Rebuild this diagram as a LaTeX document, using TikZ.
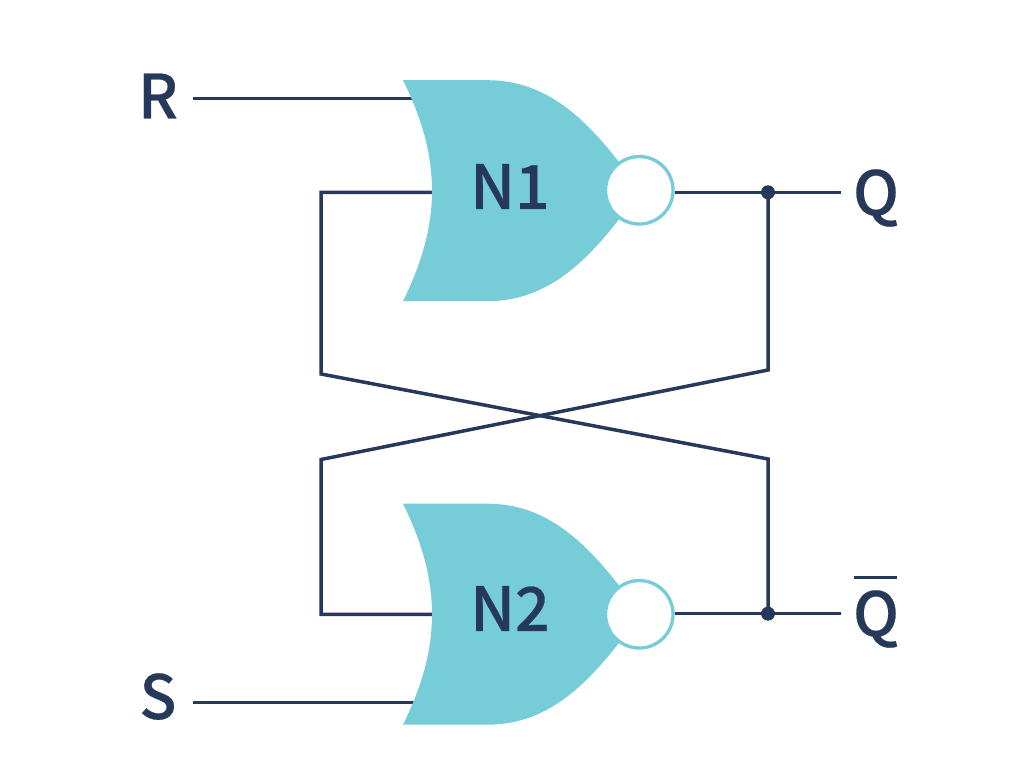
\documentclass[tikz,border=0pt]{standalone}
\usepackage{fontspec}
\setmainfont{Noto Sans CJK SC}[UprightFont=* Medium, UprightFeatures={FakeBold=0.4}]
\usepackage{tikz}
\usetikzlibrary{positioning}
\definecolor{wirecol}{HTML}{27395A}
\definecolor{gatecol}{HTML}{76CDD8}
\tikzset{
  wire/.style={draw=wirecol, line width=0.07cm},
  gatename/.style={text=wirecol, font=\fontsize{34.7}{36}\selectfont, inner sep=0pt, text height=0.92cm, text depth=0pt},
  sig/.style={gatename, minimum width=1.4cm},
  bubble/.style={draw=gatecol, fill=white, circle, line width=0.066cm, minimum size=1.35cm, inner sep=0pt},
  joint/.style={fill=wirecol, circle, minimum size=0.28cm, inner sep=0pt},
  norbody/.pic={
    \fill[gatecol] (-237,-110.5) -- (-153,-110.5) .. controls (-90,-110.5) and (-48,-68.5) .. (0,0)
      .. controls (-48,68.5) and (-90,110.5) .. (-153,110.5) -- (-237,110.5)
      .. controls (-217,70) and (-208,35) .. (-208,0) .. controls (-208,-35) and (-217,-70) .. (-237,-110.5) -- cycle;
  }
}
\begin{document}
\begin{tikzpicture}[x=0.02cm,y=-0.02cm]
    \useasboundingbox (0,0) rectangle (1036,763);

    \node[sig] (R) at (158,95.5) {R};
    \node[sig] (S) at (158,696) {S};
    \node[sig] (Q) at (876,192) {Q};
    \node[sig] (Qbar) at (876,613) {\makebox[0pt][l]{\hspace{0.02cm}\rule[1.14cm]{0.85cm}{0.06cm}}Q};

    \coordinate (r1) at (414,98.7);
    \coordinate (s1) at (414,702.5);
    \coordinate (a1) at (432,192.3);
    \coordinate (a2) at (432,614.5);
    \coordinate (j1) at (768,192.3);
    \coordinate (j2) at (768,613.7);

    \draw[wire] (R.east |- r1) -- (r1);
    \draw[wire] (S.east |- s1) -- (s1);
    \draw[wire] (a1) -- (321,192.3) -- (321,374) -- (768,459) -- (j2);
    \draw[wire] (j1) -- (768,370) -- (321,459.5) -- (321,614.5) -- (a2);

    \pic at (640,190.7) {norbody};
    \pic at (640,614.2) {norbody};

    \node[gatename] (N1) at (510,186) {N1};
    \node[gatename] (N2) at (510,608) {N2};
    \node[bubble] (b1) at (639.3,190.3) {};
    \node[bubble] (b2) at (639.3,614.3) {};

    \draw[wire] (b1.east |- j1) -- (j1) -- (Q.west |- j1);
    \draw[wire] (b2.east |- j2) -- (j2) -- (Qbar.west |- j2);
    \node[joint] (d1) at (j1) {};
    \node[joint] (d2) at (j2) {};
\end{tikzpicture}
\end{document}
